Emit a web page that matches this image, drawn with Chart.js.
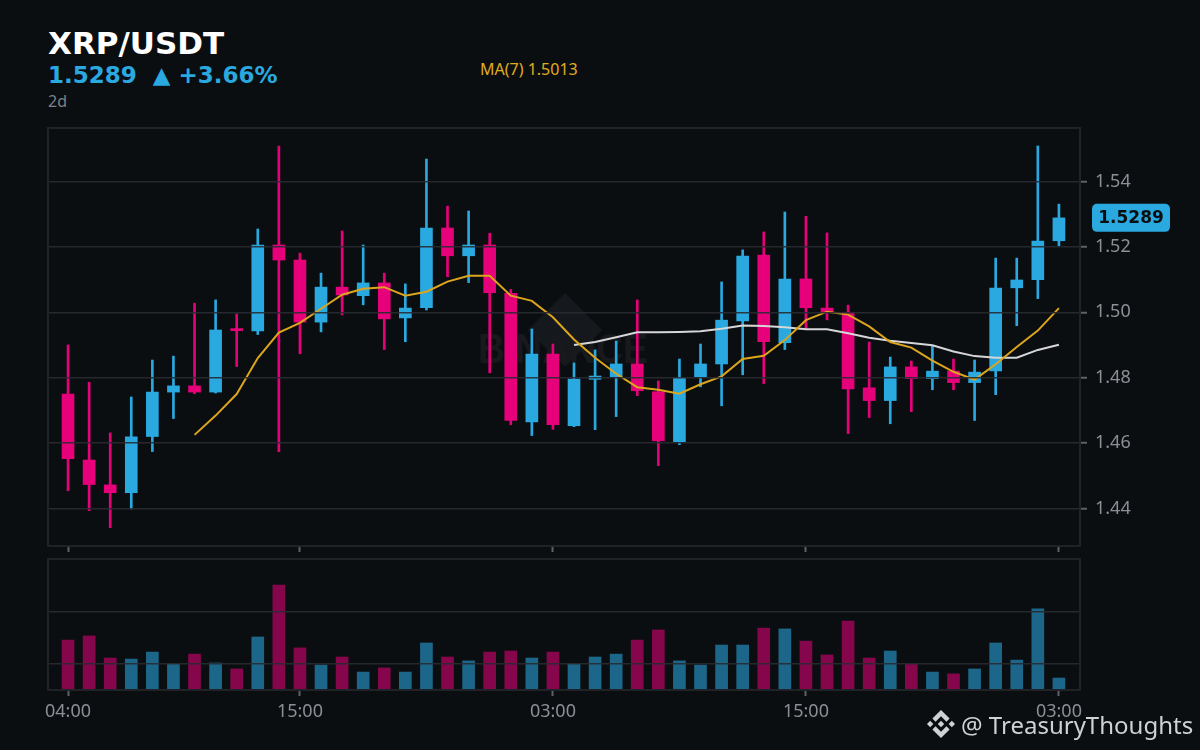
<!DOCTYPE html>
<html>
<head>
<meta charset="utf-8">
<script src="https://cdn.jsdelivr.net/npm/chart.js@4.4.0/dist/chart.umd.min.js"></script>
<style>
  html, body { margin: 0; padding: 0; }
  body { width: 1200px; height: 750px; background: #0b0e11; position: relative; overflow: hidden; font-family: "Noto Sans", sans-serif; }
  .txt { position: absolute; white-space: pre; }
  #title { left: 48px; top: 28px; font: bold 31px/31px "DejaVu Sans", sans-serif; color: #ffffff; }
  #last { left: 48px; top: 64px; font: bold 23px/23px "DejaVu Sans", sans-serif; color: #29a9e0; }
  #period { left: 48px; top: 92px; font: 16px/18px "Noto Sans", sans-serif; color: #7d8188; }
  #maText { left: 480px; top: 60px; font: 16px/18px "Noto Sans", sans-serif; color: #e0ac1d; }
  #pricePane { position: absolute; left: 0; top: 120px; width: 1200px; height: 440px; }
  #volPane { position: absolute; left: 0; top: 550px; width: 1200px; height: 200px; }
  #credit { position: absolute; left: 927px; top: 706px; height: 36px; display: flex; align-items: center; white-space: nowrap; font: 24px "Noto Sans", sans-serif; color: #cfd1d4; }
  #credit svg { width: 28px; height: 28px; margin-right: 6px; flex: none; }
</style>
</head>
<body>
<div id="title" class="txt">XRP/USDT</div>
<div id="last" class="txt">1.5289  ▲ +3.66%</div>
<div id="period" class="txt">2d</div>
<div id="maText" class="txt">MA(7) 1.5013</div>
<div id="pricePane"><canvas id="priceChart"></canvas></div>
<div id="volPane"><canvas id="volChart"></canvas></div>
<div id="credit">
  <svg viewBox="0 0 126.61 126.61" fill="#cfd1d4">
    <path d="M38.73,53.2,63.3,28.64,87.89,53.23l14.3-14.3L63.3,0,24.43,38.9Z"/>
    <path d="M0,63.31l14.3-14.3,14.3,14.3L14.3,77.61Z"/>
    <path d="M38.73,73.41,63.3,98,87.89,73.4l14.3,14.29h0L63.3,126.61,24.42,87.73l0,0Z"/>
    <path d="M98,63.31l14.3-14.3,14.3,14.3-14.3,14.3Z"/>
    <path d="M77.83,63.3h0L63.3,48.76,52.55,59.51h0l-1.24,1.24-2.54,2.54h0l0,0L63.3,77.83,77.83,63.3h0Z"/>
  </svg><span>@ TreasuryThoughts</span>
</div>

<script>
// hourly candles, 04:00 -> 03:00 two days later
const hours = [
  '04:00','05:00','06:00','07:00','08:00','09:00','10:00','11:00','12:00','13:00','14:00','15:00',
  '16:00','17:00','18:00','19:00','20:00','21:00','22:00','23:00','00:00','01:00','02:00','03:00',
  '04:00','05:00','06:00','07:00','08:00','09:00','10:00','11:00','12:00','13:00','14:00','15:00',
  '16:00','17:00','18:00','19:00','20:00','21:00','22:00','23:00','00:00','01:00','02:00','03:00'
];
const tickIdx = [0, 11, 23, 35, 47];

const opens = [
  1.4750, 1.4548, 1.4472, 1.4448, 1.4620, 1.4756, 1.4775, 1.4756, 1.4946, 1.4943, 1.5206, 1.5160,
  1.4970, 1.5077, 1.5051, 1.5090, 1.4983, 1.5014, 1.5258, 1.5173, 1.5206, 1.5058, 1.4665, 1.4872,
  1.4653, 1.4795, 1.4803, 1.4842, 1.4757, 1.4604, 1.4802, 1.4842, 1.4974, 1.5175, 1.4907, 1.5102,
  1.5013, 1.4999, 1.4769, 1.4730, 1.4833, 1.4797, 1.4820, 1.4785, 1.4821, 1.5075, 1.5100, 1.5219
];
const highs = [
  1.4900, 1.4786, 1.4631, 1.4741, 1.4854, 1.4866, 1.5028, 1.5038, 1.4995, 1.5255, 1.5509, 1.5181,
  1.5120, 1.5249, 1.5206, 1.5120, 1.5087, 1.5469, 1.5325, 1.5310, 1.5242, 1.5070, 1.4949, 1.4903,
  1.4845, 1.4885, 1.4912, 1.5038, 1.4790, 1.4857, 1.4903, 1.5093, 1.5191, 1.5246, 1.5307, 1.5294,
  1.5243, 1.5022, 1.4909, 1.4863, 1.4851, 1.4897, 1.4857, 1.4854, 1.5166, 1.5166, 1.5509, 1.5331
];
const lows = [
  1.4454, 1.4393, 1.4341, 1.4398, 1.4574, 1.4675, 1.4751, 1.4753, 1.4834, 1.4932, 1.4574, 1.4873,
  1.4940, 1.4992, 1.5023, 1.4886, 1.4910, 1.5007, 1.5109, 1.5091, 1.4815, 1.4656, 1.4623, 1.4642,
  1.4650, 1.4641, 1.4681, 1.4745, 1.4531, 1.4595, 1.4772, 1.4714, 1.4809, 1.4782, 1.4886, 1.4949,
  1.4977, 1.4629, 1.4678, 1.4659, 1.4696, 1.4763, 1.4763, 1.4669, 1.4748, 1.4959, 1.5042, 1.5204
];
const closes = [
  1.4552, 1.4473, 1.4448, 1.4619, 1.4756, 1.4775, 1.4756, 1.4946, 1.4944, 1.5206, 1.5160, 1.4970,
  1.5077, 1.5053, 1.5090, 1.4980, 1.5013, 1.5258, 1.5173, 1.5206, 1.5060, 1.4669, 1.4872, 1.4656,
  1.4796, 1.4805, 1.4842, 1.4760, 1.4607, 1.4799, 1.4842, 1.4976, 1.5172, 1.4910, 1.5102, 1.5014,
  1.4999, 1.4766, 1.4730, 1.4833, 1.4797, 1.4820, 1.4785, 1.4817, 1.5074, 1.5099, 1.5218, 1.5289
];
const ma7 = [
  null, null, null, null, null, null, 1.4625, 1.4684, 1.4750, 1.4860, 1.4938, 1.4968,
  1.5011, 1.5054, 1.5072, 1.5077, 1.5051, 1.5063, 1.5094, 1.5112, 1.5112, 1.5051, 1.5035, 1.4985,
  1.4917, 1.4861, 1.4812, 1.4771, 1.4763, 1.4751, 1.4780, 1.4804, 1.4857, 1.4867, 1.4915, 1.4976,
  1.5002, 1.4993, 1.4957, 1.4909, 1.4892, 1.4852, 1.4818, 1.4794, 1.4841, 1.4894, 1.4944, 1.5013
];
const ma25 = [
  null, null, null, null, null, null, null, null, null, null, null, null,
  null, null, null, null, null, null, null, null, null, null, null, null,
  1.4900, 1.4909, 1.4924, 1.4939, 1.4939, 1.4940, 1.4942, 1.4950, 1.4960, 1.4958, 1.4954, 1.4948,
  1.4948, 1.4936, 1.4922, 1.4913, 1.4906, 1.4899, 1.4880, 1.4866, 1.4861, 1.4861, 1.4885, 1.4901
];
// volume, millions
const volumes = [
  19.2, 20.8, 12.3, 11.9, 14.6, 10.0, 13.8, 10.4, 8.1, 20.4, 40.4, 16.2,
  9.6, 12.7, 6.9, 8.5, 6.9, 18.1, 12.7, 11.2, 14.6, 15.0, 12.3, 14.6,
  10.0, 12.7, 13.8, 19.2, 23.1, 11.2, 9.6, 17.3, 17.3, 23.8, 23.5, 18.8,
  13.5, 26.5, 12.3, 15.0, 10.0, 6.9, 6.2, 8.1, 18.1, 11.5, 31.2, 4.6
];
const volGrid = [10, 30];

const UP = '#29a9e0', DOWN = '#e6007a';
const UP_VOL = 'rgba(41,169,224,0.58)', DOWN_VOL = 'rgba(230,0,122,0.56)';
const GRID = 'rgba(40,43,49,0.9)';
const FRAME = '#1f2328';
const TICK_TXT = '#8b8f96';

const isUp = closes.map((c, i) => c >= opens[i]);
const candleColor = isUp.map(u => u ? UP : DOWN);
const volColor = isUp.map(u => u ? UP_VOL : DOWN_VOL);

Chart.defaults.font.family = '"Noto Sans", sans-serif';
Chart.defaults.animation = false;

// box around the plot area
const framePlugin = {
  id: 'frame',
  afterDraw(chart) {
    const { ctx, chartArea: a } = chart;
    ctx.save();
    ctx.strokeStyle = FRAME;
    ctx.lineWidth = 2;
    ctx.strokeRect(a.left, a.top, a.right - a.left, a.bottom - a.top);
    ctx.restore();
  }
};

// faint exchange watermark behind the candles
const watermarkPlugin = {
  id: 'watermark',
  beforeDatasetsDraw(chart) {
    const ctx = chart.ctx;
    ctx.save();
    ctx.fillStyle = '#15181c';
    ctx.beginPath();
    ctx.moveTo(565, 173);
    ctx.lineTo(602, 210);
    ctx.lineTo(565, 247);
    ctx.lineTo(528, 210);
    ctx.closePath();
    ctx.fill();
    ctx.fillStyle = '#17191d';
    ctx.font = 'bold 42px "Liberation Sans", sans-serif';
    ctx.textBaseline = 'alphabetic';
    ctx.fillText('BINANCE', 478, 243, 170);
    ctx.restore();
  }
};

// last price tag on the right axis
const lastPricePlugin = {
  id: 'lastPrice',
  afterDraw(chart) {
    const ctx = chart.ctx;
    const y = chart.scales.y.getPixelForValue(closes[closes.length - 1]);
    const x = chart.chartArea.right + 12, w = 78, h = 28;
    ctx.save();
    ctx.fillStyle = UP;
    ctx.beginPath();
    ctx.roundRect(x, y - h / 2, w, h, 5);
    ctx.fill();
    ctx.fillStyle = '#0b0e11';
    ctx.font = 'bold 17px "DejaVu Sans", sans-serif';
    ctx.textAlign = 'center';
    ctx.textBaseline = 'middle';
    ctx.fillText(closes[closes.length - 1].toFixed(4), x + w / 2, y + 1);
    ctx.restore();
  }
};

function xAxis(showLabels, height) {
  return {
    type: 'linear',
    min: -0.95,
    max: 48.0,
    offset: false,
    grid: { display: true, offset: false, drawOnChartArea: false, drawTicks: true, tickLength: 6, tickColor: '#5d6168', tickWidth: 2 },
    border: { display: false },
    ticks: {
      display: showLabels,
      color: TICK_TXT,
      font: { size: 18 },
      padding: 5,
      maxRotation: 0,
      callback: v => hours[v]
    },
    afterBuildTicks: axis => { axis.ticks = tickIdx.map(v => ({ value: v })); },
    afterFit: axis => { axis.height = height; axis.paddingLeft = 0; axis.paddingRight = 0; }
  };
}

const xs = hours.map((h, i) => i);

new Chart(document.getElementById('priceChart'), {
  type: 'bar',
  data: {
    datasets: [
      {
        type: 'line', label: 'MA(7)', order: 0,
        data: xs.map(i => ({ x: i, y: ma7[i] })),
        borderColor: '#dca51c', borderWidth: 2, pointRadius: 0, tension: 0
      },
      {
        type: 'line', label: 'MA(25)', order: 0,
        data: xs.map(i => ({ x: i, y: ma25[i] })),
        borderColor: '#d6d6d8', borderWidth: 2, pointRadius: 0, tension: 0
      },
      {
        label: 'wick', order: 2, grouped: false,
        data: xs.map(i => ({ x: i, y: [lows[i], highs[i]] })),
        backgroundColor: candleColor, barThickness: 2
      },
      {
        label: 'body', order: 1, grouped: false,
        data: xs.map(i => ({ x: i, y: [opens[i], closes[i]] })),
        backgroundColor: candleColor, barThickness: 12, minBarLength: 2
      }
    ]
  },
  options: {
    responsive: true,
    maintainAspectRatio: false,
    layout: { padding: { left: 48, top: 8, right: 0, bottom: 6 } },
    plugins: { legend: { display: false }, tooltip: { enabled: false } },
    scales: {
      x: xAxis(false, 8),
      y: {
        position: 'right',
        min: 1.4285,
        max: 1.5564,
        grid: { color: GRID, lineWidth: 1.5, z: 1, tickLength: 7, tickColor: '#5d6168', tickWidth: 2 },
        border: { display: false },
        ticks: {
          stepSize: 0.02,
          includeBounds: false,
          color: TICK_TXT,
          font: { size: 18 },
          padding: 8,
          callback: v => v.toFixed(2)
        },
        afterFit: axis => { axis.width = 120; axis.paddingTop = 0; axis.paddingBottom = 0; }
      }
    }
  },
  plugins: [watermarkPlugin, framePlugin, lastPricePlugin]
});

new Chart(document.getElementById('volChart'), {
  type: 'bar',
  data: {
    datasets: [{
      label: 'Volume', grouped: false,
      data: xs.map(i => ({ x: i, y: volumes[i] })),
      backgroundColor: volColor, barThickness: 12
    }]
  },
  options: {
    responsive: true,
    maintainAspectRatio: false,
    layout: { padding: { left: 48, top: 9, right: 0, bottom: 20 } },
    plugins: { legend: { display: false }, tooltip: { enabled: false } },
    scales: {
      x: xAxis(true, 40),
      y: {
        position: 'right',
        min: 0,
        max: 50.4,
        grid: { color: GRID, lineWidth: 1.5, z: 1, drawTicks: false },
        border: { display: false },
        ticks: { display: false },
        afterBuildTicks: axis => { axis.ticks = volGrid.map(v => ({ value: v })); },
        afterFit: axis => { axis.width = 120; axis.paddingTop = 0; axis.paddingBottom = 0; }
      }
    }
  },
  plugins: [framePlugin]
});
</script>
</body>
</html>
